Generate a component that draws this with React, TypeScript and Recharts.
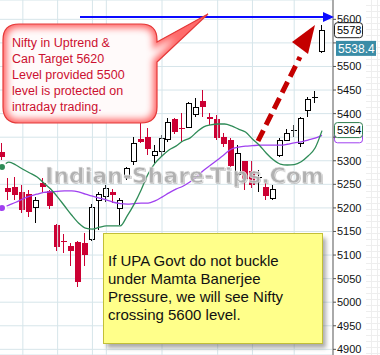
import React from 'react';
import { ComposedChart, Bar, Line, XAxis, YAxis, CartesianGrid, ReferenceLine } from 'recharts';

// ---- data ----
const opens = [5318,5242,5244,5234,5229,5200,5253,5236,5164,5130,5119,5128,5125,5131,5214,5223,5234,5197,5263,5297,5346,5350,5310,5318,5344,5388,5369,5369,5397,5427,5393,5389,5350,5344,5270,5299,5278,5263,5244,5219,5310,5342,5364,5335,5405,5434,5530];
const highs = [5338,5263,5265,5248,5238,5223,5263,5238,5166,5145,5125,5130,5147,5208,5234,5248,5240,5221,5286,5350,5380,5369,5333,5355,5391,5391,5401,5425,5433,5450,5401,5397,5359,5348,5333,5300,5299,5281,5253,5248,5348,5367,5376,5393,5435,5448,5588];
const lows = [5302,5217,5217,5189,5181,5168,5234,5198,5108,5104,5077,5032,5077,5130,5153,5212,5210,5164,5259,5291,5338,5312,5295,5308,5340,5357,5340,5369,5393,5393,5376,5344,5329,5287,5268,5238,5242,5234,5217,5217,5309,5341,5350,5329,5393,5422,5528];
const closes = [5308,5234,5227,5195,5191,5217,5244,5204,5117,5128,5108,5043,5100,5202,5229,5242,5227,5217,5285,5338,5340,5325,5321,5348,5382,5361,5367,5422,5414,5414,5389,5348,5335,5289,5316,5261,5248,5266,5225,5240,5344,5359,5366,5391,5431,5436,5578];
const maGreen = [5287,5297,5291,5282,5274,5266,5253,5240,5223,5204,5185,5168,5157,5155,5159,5162,5162,5162,5183,5208,5238,5272,5295,5310,5323,5331,5342,5348,5361,5372,5376,5378,5378,5374,5367,5361,5346,5333,5316,5302,5293,5291,5292,5298,5310,5327,5364];
const maPurple = [5200,5206,5212,5219,5225,5229,5233,5234,5235,5236,5236,5234,5229,5225,5221,5217,5212,5209,5208,5209,5210,5210,5215,5223,5232,5240,5246,5255,5266,5280,5291,5302,5314,5325,5329,5331,5332,5333,5333,5333,5333,5335,5338,5340,5344,5348,5354];
const yTicks = [4900,4950,5000,5050,5100,5150,5200,5250,5300,5350,5400,5450,5500,5550,5600];
const gridDays = [3, 8, 13, 15, 23, 31, 36, 42];
const lastPrice = 5538.4;

const bubbleLines = ['Nifty in Uptrend &', 'Can Target 5620', 'Level provided 5500', 'level is protected on', 'intraday trading.'];
const noteLines = ['If UPA Govt do not buckle', 'under Mamta Banerjee', 'Pressure, we will see Nifty', 'crossing 5600 level.'];
const watermark = 'Indian-Share-Tips.Com';

const data = opens.map((o, i) => ({
  day: i,
  open: o,
  high: highs[i],
  low: lows[i],
  close: closes[i],
  range: [lows[i], highs[i]],
  maG: maGreen[i],
  maP: maPurple[i],
}));

const tagValues = [lastPrice, closes[closes.length - 1], maGreen[maGreen.length - 1], maPurple[maPurple.length - 1]];

const RED = '#cc0033';
const FONT = '"Liberation Sans", Arial, sans-serif';

const Candle = (props: any) => {
  const { x, y, width, height, payload } = props;
  if (!payload || height == null) return null;
  const { open, close, high, low } = payload;
  const span = high - low || 1;
  const pix = (v: number) => y + ((high - v) / span) * height;
  const up = close >= open;
  const color = up ? '#000000' : RED;
  const left = Math.round(x + width / 2 - 3);
  const cx = left + 2.5;
  const top = Math.round(pix(Math.max(open, close)));
  const bot = Math.round(pix(Math.min(open, close)));
  const yh = Math.round(pix(high));
  const yl = Math.round(pix(low));
  const wick = <line x1={cx} x2={cx} y1={yh} y2={yl} stroke={color} strokeWidth={1} />;
  if (bot - top < 2) {
    return (
      <g>
        {wick}
        <line x1={left} x2={left + 6} y1={top + 0.5} y2={top + 0.5} stroke={color} strokeWidth={1} />
      </g>
    );
  }
  if (up) {
    return (
      <g>
        {wick}
        <rect x={left + 0.5} y={top + 0.5} width={5} height={bot - top - 1} fill="#ffffff" stroke="#000000" strokeWidth={1} />
      </g>
    );
  }
  return (
    <g>
      {wick}
      <rect x={left} y={top} width={6} height={bot - top} fill={RED} />
    </g>
  );
};

const AxisTick = (props: any) => {
  const { x, y, payload } = props;
  const v = payload ? payload.value : null;
  if (v == null || tagValues.some((t) => Math.abs(t - v) < 15)) return <g />;
  return (
    <text x={x} y={y} dy="0.355em" textAnchor="start" fontSize={11} fill="#111111" fontFamily={FONT}>
      {v}
    </text>
  );
};

const Tag = (props: any) => {
  const { viewBox, kind, text } = props;
  if (!viewBox) return null;
  const x0 = viewBox.x + viewBox.width;
  const yv = viewBox.y;
  if (kind === 'last') {
    return (
      <g>
        <rect x={x0 + 3} y={yv - 7.5} width={40} height={15} fill="#3a8ca6" />
        <text x={x0 + 5} y={yv + 4.5} fontSize={12} fill="#ffffff" fontFamily={FONT}>{text}</text>
      </g>
    );
  }
  const stroke = kind === 'close' ? '#222222' : kind === 'green' ? '#2e7d4f' : '#a040f0';
  const dy = kind === 'close' ? -7 : kind === 'green' ? -8 : -7.5;
  return (
    <g>
      <rect x={x0 + 1.5} y={yv + dy} width={28} height={15} rx={3} fill="#ffffff" stroke={stroke} strokeWidth={1} />
      {text ? (
        <text x={x0 + 4} y={yv + dy + 11.5} fontSize={11} fill="#000000" fontFamily={FONT}>{text}</text>
      ) : null}
    </g>
  );
};

// bubble geometry
const bx0 = 3, by0 = 24, bx1 = 157, by1 = 123, br = 16;
const bubblePath = `M${bx0 + br},${by0} H${bx1 - br} Q${bx1},${by0} ${bx1},${by0 + br} V42 L208,14 L${bx1},62 V${by1 - br} Q${bx1},${by1} ${bx1 - br},${by1} H${bx0 + br} Q${bx0},${by1} ${bx0},${by1 - br} V${by0 + br} Q${bx0},${by0} ${bx0 + br},${by0} Z`;

export default function App() {
  return (
    <div style={{ position: 'absolute', left: 0, top: 0, width: 380, height: 355, background: '#ffffff', overflow: 'hidden' }}>
      <svg width={380} height={355} style={{ position: 'absolute', left: 0, top: 0 }}>
        <defs>
          <pattern id="sideGrid" width="6" height="6" patternUnits="userSpaceOnUse">
            <path d="M5.5 0 V6 M0 5.5 H6" stroke="#eeeeee" fill="none" strokeWidth={1} />
          </pattern>
        </defs>
        <rect x={366} y={0} width={14} height={355} fill="url(#sideGrid)" />
      </svg>
      <div style={{ position: 'absolute', left: 0, top: 0 }}>
        <ComposedChart width={380} height={355} data={data} margin={{ top: 0, right: 0, bottom: 0, left: -2 }}>
          <CartesianGrid horizontal={true} vertical={false} stroke="#d6e5ea" strokeWidth={1} />
          {gridDays.map((d) => (
            <ReferenceLine key={'g' + d} x={d} stroke="#d6e5ea" strokeWidth={1} />
          ))}
          <XAxis dataKey="day" type="category" hide padding={{ left: 0.5, right: 7.5 }} />
          <YAxis
            orientation="right"
            width={47}
            domain={[4888, 5641]}
            allowDataOverflow
            ticks={yTicks}
            interval={0}
            tickSize={3}
            tickMargin={1}
            axisLine={{ stroke: '#aaaaaa', strokeWidth: 2 }}
            tickLine={{ stroke: '#555555' }}
            tick={<AxisTick />}
          />
          <Line dataKey="maP" type="monotone" stroke="#a040f0" strokeWidth={1.3} dot={false} isAnimationActive={false} />
          <Line dataKey="maG" type="monotone" stroke="#2e8b57" strokeWidth={1.3} dot={false} isAnimationActive={false} />
          <Bar dataKey="range" barSize={6} isAnimationActive={false} shape={(p: any) => <Candle {...p} />} />
          <ReferenceLine y={maPurple[maPurple.length - 1]} stroke="none" label={<Tag kind="purple" text="" />} />
          <ReferenceLine y={maGreen[maGreen.length - 1]} stroke="none" label={<Tag kind="green" text={String(maGreen[maGreen.length - 1])} />} />
          <ReferenceLine y={closes[closes.length - 1]} stroke="none" label={<Tag kind="close" text={String(closes[closes.length - 1])} />} />
          <ReferenceLine y={lastPrice} stroke="none" label={<Tag kind="last" text={lastPrice.toFixed(1)} />} />
        </ComposedChart>
      </div>
      <svg width={380} height={355} style={{ position: 'absolute', left: 0, top: 0, pointerEvents: 'none' }}>
        <defs>
          <clipPath id="bubbleClip">
            <path d={bubblePath} />
          </clipPath>
          <filter id="glow" x="-20%" y="-20%" width="140%" height="140%">
            <feGaussianBlur stdDeviation="3" />
          </filter>
          <filter id="shadow" x="-10%" y="-10%" width="130%" height="130%">
            <feGaussianBlur stdDeviation="2" />
          </filter>
        </defs>

        {/* watermark */}
        <text x={46} y={184} fontFamily='"DejaVu Sans", Verdana, sans-serif' fontWeight="bold" fontSize={22} fill="#8a8a8a" opacity={0.5}>{watermark}</text>
        <text x={45} y={183} fontFamily='"DejaVu Sans", Verdana, sans-serif' fontWeight="bold" fontSize={22} fill="#b0b0b0" stroke="#f4f4f4" strokeWidth={0.6} opacity={0.92}>{watermark}</text>

        {/* blue target line */}
        <line x1={80} x2={325} y1={17} y2={17} stroke="#0a0aff" strokeWidth={2} />
        <polygon points="323,12 334,17 323,22" fill="#0a0aff" />

        {/* red dashed arrow */}
        <line x1={258} y1={141} x2={300} y2={57} stroke="#c40000" strokeWidth={5} strokeDasharray="12 6" />
        <polygon points="315,25 292,42 308,54" fill="#c40000" />

        {/* speech bubble */}
        <g clipPath="url(#bubbleClip)">
          <rect x={0} y={10} width={215} height={120} fill="#ff6a6a" />
          <path d={bubblePath} fill="#fffafa" stroke="#ff6a6a" strokeWidth={10} filter="url(#glow)" />
        </g>
        <path d={bubblePath} fill="none" stroke="#e43a3a" strokeWidth={1.2} />
        {bubbleLines.map((t, i) => (
          <text key={t} x={12} y={47 + i * 16} fontFamily={FONT} fontSize={12.5} fill="#cc1030">{t}</text>
        ))}

        {/* yellow note */}
        <rect x={107} y={238} width={219} height={110} fill="#666666" opacity={0.55} filter="url(#shadow)" />
        <rect x={103.5} y={233.5} width={219} height={110} fill="#ffff8a" stroke="#c2bf38" strokeWidth={1} />
        {noteLines.map((t, i) => (
          <text key={t} x={108} y={266 + i * 18} fontFamily={FONT} fontSize={15} fill="#111111">{t}</text>
        ))}
      </svg>
    </div>
  );
}
